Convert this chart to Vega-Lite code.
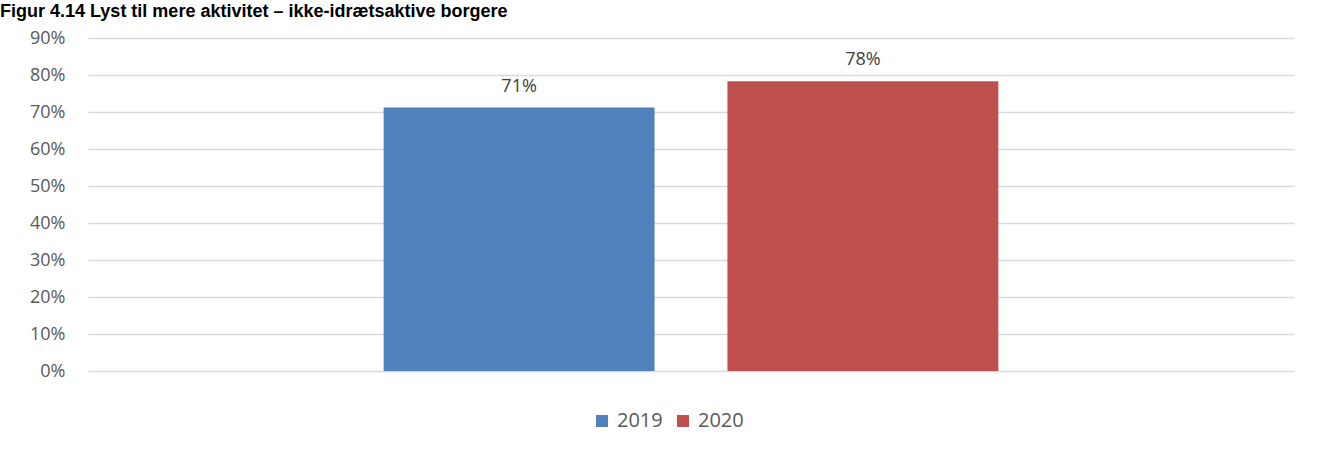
{
  "$schema": "https://vega.github.io/schema/vega-lite/v6.json",
  "width": 1206,
  "height": 333,
  "autosize": {"type": "none"},
  "padding": {"left": 88, "top": 38, "right": 32, "bottom": 81},
  "background": "white",
  "title": {
    "text": "Figur 4.14 Lyst til mere aktivitet – ikke-idrætsaktive borgere",
    "anchor": "start",
    "frame": "group",
    "dx": -88,
    "offset": -6,
    "baseline": "alphabetic",
    "font": "Liberation Sans",
    "fontSize": 18,
    "fontWeight": "bold",
    "color": "#000000"
  },
  "data": {
    "values": [
      {"year": "2019", "share": 0.712},
      {"year": "2020", "share": 0.783}
    ]
  },
  "encoding": {
    "x": {
      "field": "year",
      "type": "nominal",
      "axis": null,
      "scale": {"paddingInner": 0.212, "paddingOuter": 0.86}
    },
    "y": {
      "field": "share",
      "type": "quantitative",
      "scale": {"domain": [0, 0.9], "nice": false},
      "axis": {
        "title": null,
        "values": [0, 0.1, 0.2, 0.3, 0.4, 0.5, 0.6, 0.7, 0.8, 0.9],
        "format": ".0%",
        "domain": false,
        "ticks": false,
        "labelPadding": 23,
        "labelFont": "Open Sans",
        "labelFontSize": 18,
        "labelColor": "#595959",
        "gridColor": "#d9d9d9",
        "gridWidth": 1.5
      }
    }
  },
  "layer": [
    {
      "mark": {"type": "bar"},
      "encoding": {
        "color": {
          "field": "year",
          "type": "nominal",
          "scale": {"domain": ["2019", "2020"], "range": ["#4f81bd", "#c0504d"]},
          "legend": {
            "title": null,
            "orient": "none",
            "direction": "horizontal",
            "legendX": 504,
            "legendY": 373,
            "symbolType": "square",
            "symbolSize": 144,
            "symbolStrokeWidth": 0,
            "labelFont": "Open Sans",
            "labelFontSize": 20,
            "labelColor": "#595959",
            "labelOffset": 5,
            "columnPadding": 10,
            "padding": 0
          }
        }
      }
    },
    {
      "mark": {
        "type": "text",
        "baseline": "alphabetic",
        "align": "center",
        "dy": -16,
        "font": "Open Sans",
        "fontSize": 18,
        "color": "#404040"
      },
      "encoding": {
        "text": {"field": "share", "type": "quantitative", "format": ".0%"}
      }
    }
  ],
  "config": {
    "view": {"stroke": null}
  }
}
